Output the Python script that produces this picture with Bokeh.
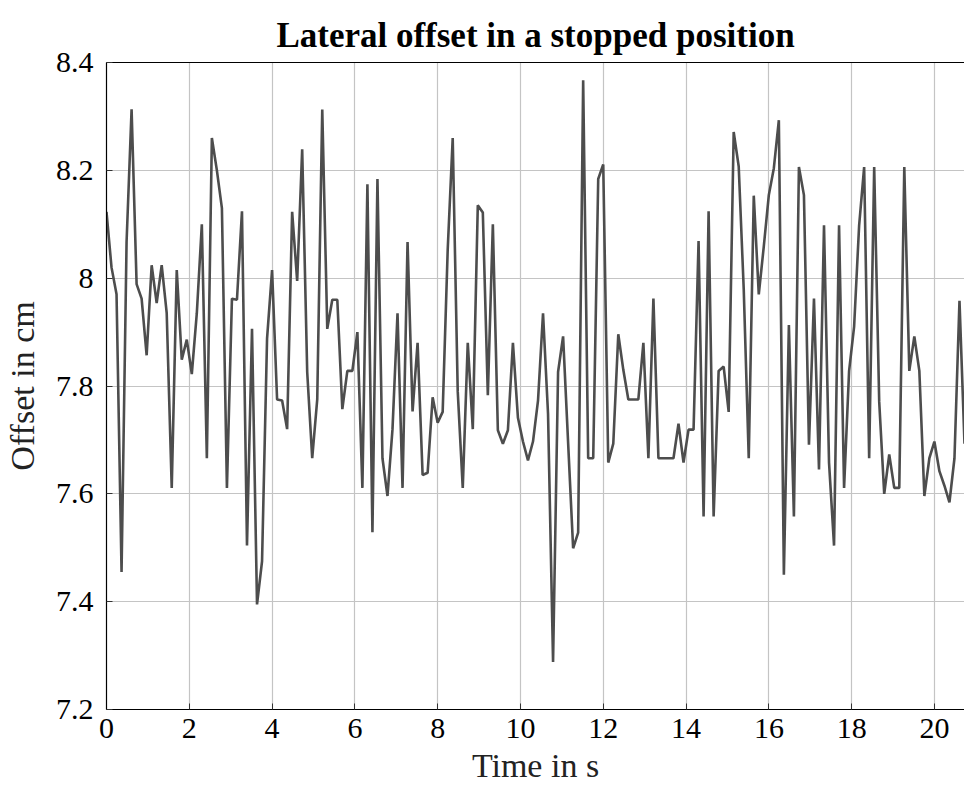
from bokeh.plotting import figure
from bokeh.models import Range1d, LinearAxis, FixedTicker, CustomJSTickFormatter
from bokeh.embed import file_html
from bokeh.resources import INLINE

# ---- data ----
SAMPLE_INTERVAL = 0.1212  # s between samples
offset_cm = [
    8.123, 8.020, 7.970, 7.455, 8.067, 8.313, 7.989, 7.962, 7.857, 8.024,
    7.954, 8.024, 7.935, 7.611, 8.015, 7.849, 7.886, 7.822, 7.935, 8.100,
    7.666, 8.260, 8.200, 8.130, 7.611, 7.962, 7.960, 8.124, 7.504, 7.906,
    7.395, 7.475, 7.888, 8.015, 7.775, 7.773, 7.720, 8.123, 7.995, 8.239,
    7.826, 7.666, 7.775, 8.313, 7.906, 7.960, 7.960, 7.757, 7.828, 7.828,
    7.900, 7.611, 8.174, 7.529, 8.184, 7.666, 7.596, 7.720, 7.935, 7.611,
    8.067, 7.753, 7.880, 7.635, 7.639, 7.779, 7.732, 7.752, 8.052, 8.260,
    7.790, 7.611, 7.880, 7.720, 8.135, 8.122, 7.783, 8.100, 7.718, 7.693,
    7.718, 7.880, 7.741, 7.697, 7.662, 7.697, 7.773, 7.935, 7.748, 7.288,
    7.826, 7.892, 7.695, 7.499, 7.528, 8.367, 7.666, 7.666, 8.184, 8.211,
    7.658, 7.693, 7.896, 7.830, 7.775, 7.775, 7.775, 7.880, 7.666, 7.962,
    7.666, 7.666, 7.666, 7.666, 7.730, 7.658, 7.719, 7.719, 8.069, 7.558,
    8.124, 7.558, 7.828, 7.836, 7.752, 8.271, 8.207, 7.980, 7.666, 8.153,
    7.970, 8.059, 8.154, 8.204, 8.293, 7.450, 7.913, 7.558, 8.206, 8.154,
    7.691, 7.962, 7.645, 8.098, 7.658, 7.504, 8.098, 7.611, 7.828, 7.910,
    8.098, 8.206, 7.666, 8.206, 7.771, 7.600, 7.673, 7.611, 7.611, 8.206,
    7.828, 7.892, 7.828, 7.596, 7.666, 7.697, 7.642, 7.615, 7.584, 7.666,
    7.958, 7.693,
]
time_s = [round(i * SAMPLE_INTERVAL, 4) for i in range(len(offset_cm))]

x_ticks = [0, 2, 4, 6, 8, 10, 12, 14, 16, 18, 20]
y_ticks = [7.2, 7.4, 7.6, 7.8, 8.0, 8.2, 8.4]
title_text = "Lateral offset in a stopped position"
x_label = "Time in s"
y_label = "Offset in cm"

FONT = "Liberation Serif"

p = figure(
    width=964, height=787,
    output_backend="svg", toolbar_location=None,
    x_range=Range1d(0, time_s[-1]), y_range=Range1d(7.2, 8.4),
    min_border_left=105, min_border_right=0,
    min_border_top=62, min_border_bottom=78,
)
p.outline_line_color = None
p.background_fill_color = "white"
p.border_fill_color = "white"

p.title.text = title_text
p.title.text_font = FONT
p.title.text_font_size = "35px"
p.title.text_font_style = "bold"
p.title.text_color = "black"
p.title.align = "center"
p.title.vertical_align = "top"
p.title.offset = 4
p.title.standoff = 12

p.line(time_s, offset_cm, line_color="#4d4d4d", line_width=2.6)

xaxis = p.xaxis[0]
yaxis = p.yaxis[0]
xaxis.ticker = FixedTicker(ticks=x_ticks)
yaxis.ticker = FixedTicker(ticks=y_ticks)
yaxis.formatter = CustomJSTickFormatter(code="return (Math.round(tick*10)/10).toString();")

for ax in (xaxis, yaxis):
    ax.major_label_text_font = FONT
    ax.major_label_text_font_size = "30px"
    ax.major_label_text_color = "black"
    ax.axis_label_text_font = FONT
    ax.axis_label_text_font_size = "34px"
    ax.axis_label_text_font_style = "normal"
    ax.axis_label_text_color = "#222222"
    ax.major_tick_in = 6
    ax.major_tick_out = 0
    ax.minor_tick_line_color = None
    ax.axis_line_color = "black"
    ax.axis_line_width = 1.2
    ax.major_tick_line_color = "#333333"

xaxis.axis_label = x_label
yaxis.axis_label = y_label
xaxis.major_label_standoff = 9
xaxis.axis_label_standoff = 6
yaxis.major_label_standoff = 13
yaxis.axis_label_standoff = 12
yaxis.major_label_orientation = "horizontal"

top_axis = LinearAxis(
    ticker=FixedTicker(ticks=[]),
    major_tick_in=0, major_tick_out=0,
    minor_tick_line_color=None,
    axis_line_color="black", axis_line_width=1.2,
    major_label_standoff=0,
)
p.add_layout(top_axis, "above")

p.xgrid.grid_line_color = "#c4c4c4"
p.ygrid.grid_line_color = "#c4c4c4"
p.xgrid.grid_line_width = 1.2
p.ygrid.grid_line_width = 1.2

open("out.html", "w").write(file_html(p, INLINE))
